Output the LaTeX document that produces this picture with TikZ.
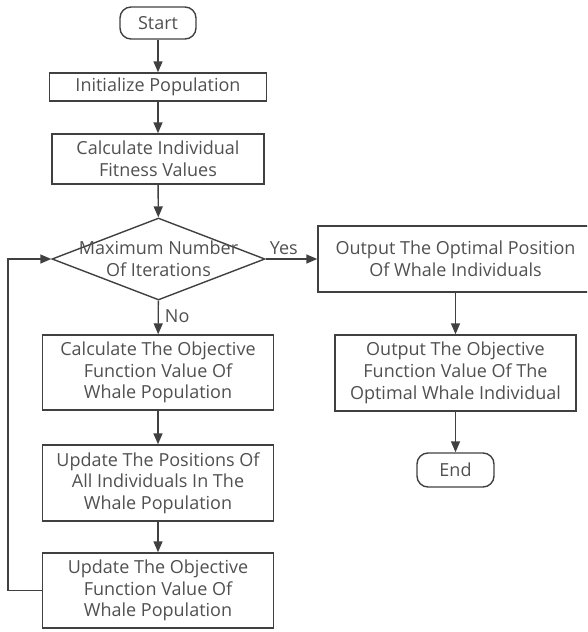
\documentclass[tikz,border=0pt]{standalone}
\usepackage{fontspec}
\setmainfont{Open Sans}
\usetikzlibrary{shapes.geometric,arrows.meta}
\definecolor{linec}{HTML}{404040}
\definecolor{textc}{HTML}{505050}
\tikzset{
  txt/.style={text=textc, font=\fontsize{18}{21.7}\selectfont},
  box/.style={draw=linec, line width=1.4pt, rectangle, inner sep=0pt, txt, align=center},
  term/.style={box, rounded corners=11pt},
  conn/.style={draw=linec, line width=1.4pt, -{Triangle[length=11pt,width=9pt]}},
  lab/.style={txt, inner sep=0pt}
}
\begin{document}
\begin{tikzpicture}[x=1pt,y=-1pt]
\useasboundingbox (0,0) rectangle (587,632);
\clip (0,0) rectangle (587,632);
\node[term, minimum width=76pt, minimum height=32pt] (start) at (158,23) {Start};
\node[box, minimum width=217pt, minimum height=28pt] (init) at (158,87) {Initialize Population};
\node[box, minimum width=212pt, minimum height=50pt] (fit) at (158,159) {Calculate Individual\\Fitness Values};
\node[draw=linec, line width=1.4pt, diamond, inner sep=0pt, minimum width=213pt, minimum height=82pt] (dia) at (158.5,259) {};
\node[lab, align=center] (diat) at (dia.center) {Maximum Number\\Of Iterations};
\node[box, minimum width=231pt, minimum height=75pt] (calc) at (158,372.5) {Calculate The Objective\\Function Value Of\\Whale Population};
\node[box, minimum width=231pt, minimum height=76pt] (upd1) at (158,483) {Update The Positions Of\\All Individuals In The\\Whale Population};
\node[box, minimum width=231pt, minimum height=75pt] (upd2) at (158,590.5) {Update The Objective\\Function Value Of\\Whale Population};
\node[box, minimum width=275pt, minimum height=66pt] (out1) at (455.5,259) {Output The Optimal Position\\Of Whale Individuals};
\node[box, minimum width=241pt, minimum height=76pt] (out2) at (455.5,373) {Output The Objective\\Function Value Of The\\Optimal Whale Individual};
\node[term, minimum width=77pt, minimum height=34pt] (end) at (455.5,470) {End};
\coordinate (loopx) at (8,591);
\draw[conn] (start) -- (init);
\draw[conn] (init) -- (fit);
\draw[conn] (fit) -- (dia);
\draw[conn] (dia) -- node[lab, right=6pt, pos=0.45] (no) {No} (calc);
\draw[conn] (calc) -- (upd1);
\draw[conn] (upd1) -- (upd2);
\draw[conn] (dia.east) -- node[lab, above=4pt, pos=0.35] (yes) {Yes} (out1.west);
\draw[conn] (out1.south -| out2.north) -- (out2.north);
\draw[conn] (out2) -- (end);
\draw[conn] (upd2.west) -- (upd2.west -| loopx) |- (dia.west);
\end{tikzpicture}
\end{document}
